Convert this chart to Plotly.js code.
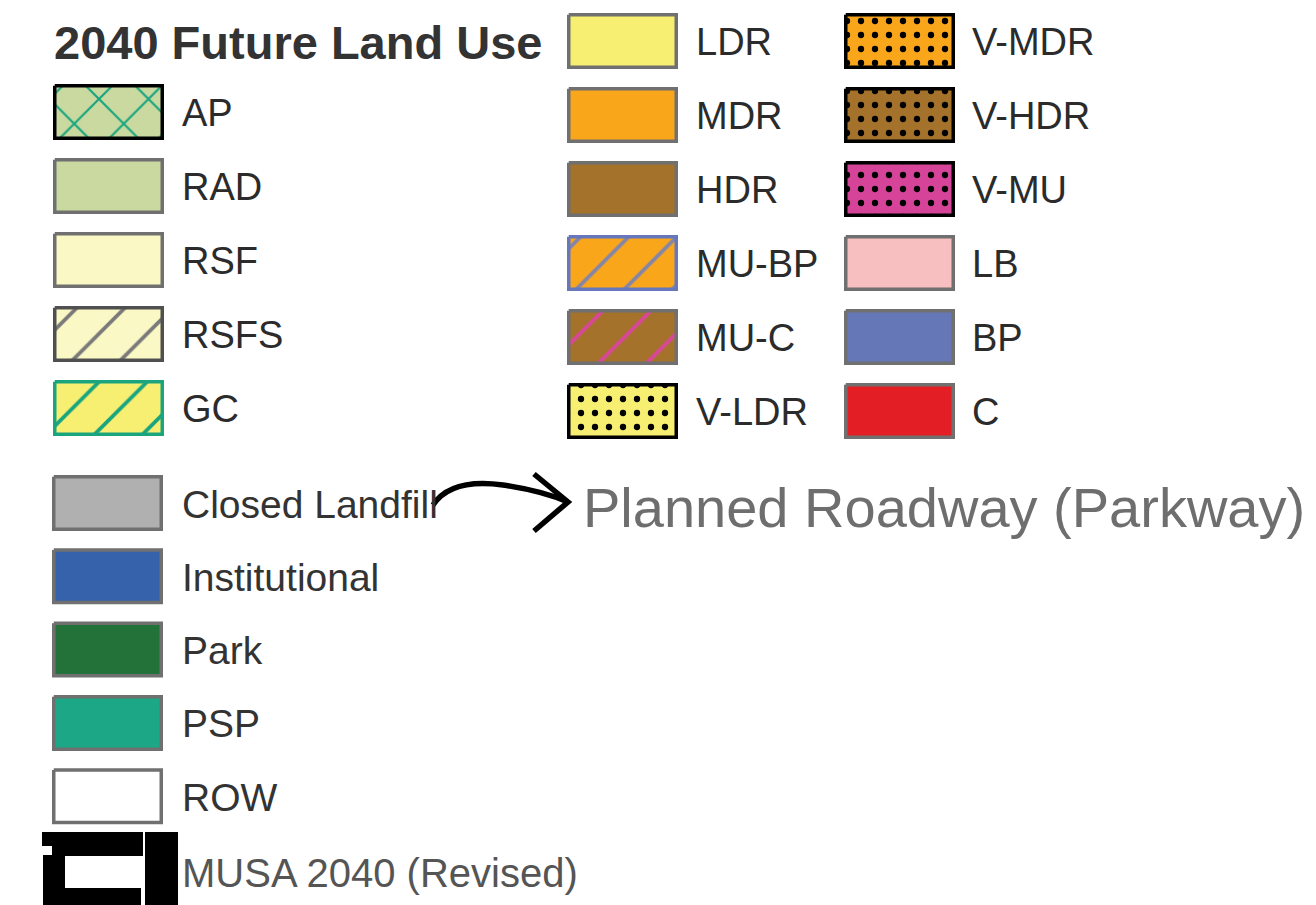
<!DOCTYPE html>
<html><head><meta charset="utf-8">
<script src="https://cdn.plot.ly/plotly-3.0.1.min.js"></script>
<style>html,body{margin:0;padding:0;background:#fff;overflow:hidden}#chart{width:1316px;height:905px}</style>
</head><body><div id="chart"></div>
<script>
// ---------- legend content ----------
const titleText = '2040 Future Land Use';

const leftLabels = ['AP', 'RAD', 'RSF', 'RSFS', 'GC'];
const leftFills = ['#c9d99f', '#c9d99f', '#faf8c4', '#faf8c4', '#f7ef72'];
const leftBorders = ['#000000', '#707070', '#707070', '#505050', '#1aa57f'];
const leftPatterns = ['x', '', '', '/', '/'];
const leftPatternColors = ['#1aa57f', '', '', '#7a7a7a', '#1aa57f'];

const midLabels = ['LDR', 'MDR', 'HDR', 'MU-BP', 'MU-C', 'V-LDR'];
const midFills = ['#f7ef72', '#f9a61b', '#a5722b', '#f9a61b', '#a5722b', '#f7ef72'];
const midBorders = ['#707070', '#707070', '#707070', '#6677bb', '#707070', '#000000'];
const midPatterns = ['', '', '', '/', '/', '.'];
const midPatternColors = ['', '', '', '#8585a8', '#d9479a', '#000000'];

const rightLabels = ['V-MDR', 'V-HDR', 'V-MU', 'LB', 'BP', 'C'];
const rightFills = ['#f9a61b', '#a5722b', '#d6449a', '#f7bfbf', '#6677b8', '#e31e25'];
const rightBorders = ['#000000', '#000000', '#000000', '#707070', '#707070', '#707070'];
const rightPatterns = ['.', '.', '.', '', '', ''];
const rightPatternColors = ['#000000', '#000000', '#000000', '', '', ''];

const lowerLabels = ['Closed Landfill', 'Institutional', 'Park', 'PSP', 'ROW'];
const lowerFills = ['#b0b0b0', '#3562ab', '#23723a', '#1ca886', '#ffffff'];
const lowerBorders = ['#707070', '#707070', '#707070', '#707070', '#707070'];
const lowerPatterns = ['', '', '', '', ''];
const lowerPatternColors = ['', '', '', '', ''];

const musaLabel = 'MUSA 2040 (Revised)';
const roadwayLabel = 'Planned Roadway (Parkway)';

// ---------- layout / styling ----------
const W = 1316, H = 905;
const FONT = 'Arial, "Liberation Sans", Helvetica, sans-serif';
const BOX_W = 111, BOX_H = 56, BORDER = 3.5;
const patternStyle = {
  'x': {size: 35, solidity: 0.12},
  '/': {size: 34, solidity: 0.11},
  '.': {size: 14, solidity: 0.16}
};
const groups = [
  {labels: leftLabels, fills: leftFills, borders: leftBorders, patterns: leftPatterns, pcolors: leftPatternColors,
   boxX: 53, labelX: 180, y0: 112, step: 74, fontSize: 38, color: '#2b2b2b'},
  {labels: midLabels, fills: midFills, borders: midBorders, patterns: midPatterns, pcolors: midPatternColors,
   boxX: 567, labelX: 694, y0: 41, step: 74, fontSize: 38, color: '#2b2b2b'},
  {labels: rightLabels, fills: rightFills, borders: rightBorders, patterns: rightPatterns, pcolors: rightPatternColors,
   boxX: 844, labelX: 970, y0: 41, step: 74, fontSize: 38, color: '#2b2b2b'},
  {labels: lowerLabels, fills: lowerFills, borders: lowerBorders, patterns: lowerPatterns, pcolors: lowerPatternColors,
   boxX: 52, labelX: 180, y0: 503, step: 73.3, fontSize: 39, color: '#333333'}
];

const traces = [];
const annotations = [];
groups.forEach(g => {
  g.labels.forEach((lab, i) => {
    const cy = g.y0 + g.step * i;
    const h = BORDER / 2;
    const x0 = g.boxX + h, x1 = g.boxX + BOX_W - h;
    const y0 = cy - BOX_H / 2 + h, y1 = cy + BOX_H / 2 - h;
    const t = {
      type: 'scatter', mode: 'lines',
      x: [x0, x1, x1, x0, x0], y: [y0, y0, y1, y1, y0],
      fill: 'toself', fillcolor: g.fills[i],
      line: {color: g.borders[i], width: BORDER},
      hoverinfo: 'skip', showlegend: false
    };
    const p = g.patterns[i];
    if (p) {
      t.fillpattern = {shape: p, fgcolor: g.pcolors[i], bgcolor: g.fills[i],
        size: patternStyle[p].size, solidity: patternStyle[p].solidity, fillmode: 'replace'};
    }
    traces.push(t);
    annotations.push({x: g.labelX, y: cy + 1, xref: 'x', yref: 'y', text: lab, showarrow: false,
      xanchor: 'left', yanchor: 'middle', font: {family: FONT, size: g.fontSize, color: g.color}});
  });
});

// title
annotations.push({x: 52, y: 42, xref: 'x', yref: 'y', text: '<b>' + titleText + '</b>', showarrow: false,
  xanchor: 'left', yanchor: 'middle', font: {family: FONT, size: 47, color: '#333333'}});
// MUSA label
annotations.push({x: 180, y: 873, xref: 'x', yref: 'y', text: musaLabel, showarrow: false,
  xanchor: 'left', yanchor: 'middle', font: {family: FONT, size: 40, color: '#555555'}});
// Planned roadway label
annotations.push({x: 581, y: 507, xref: 'x', yref: 'y', text: roadwayLabel, showarrow: false,
  xanchor: 'left', yanchor: 'middle', font: {family: FONT, size: 56, color: '#6e6e6e'}});

// decorative shapes: hand-drawn arrow and MUSA boundary symbol
const shapes = [
  {type: 'path', xref: 'x', yref: 'y', path: 'M433,505 C447,484 474,481 503,485 C530,489 552,495 568,502',
   line: {color: '#000', width: 5.5}},
  {type: 'path', xref: 'x', yref: 'y', path: 'M534,474 L568,502 L534,531',
   line: {color: '#000', width: 5.5}},
  {type: 'rect', xref: 'x', yref: 'y', x0: 42, x1: 143, y0: 832, y1: 846, fillcolor: '#000', line: {width: 0}},
  {type: 'rect', xref: 'x', yref: 'y', x0: 52, x1: 143, y0: 845, y1: 856, fillcolor: '#000', line: {width: 0}},
  {type: 'rect', xref: 'x', yref: 'y', x0: 43, x1: 65, y0: 855, y1: 905, fillcolor: '#000', line: {width: 0}},
  {type: 'rect', xref: 'x', yref: 'y', x0: 64, x1: 141, y0: 888, y1: 905, fillcolor: '#000', line: {width: 0}},
  {type: 'rect', xref: 'x', yref: 'y', x0: 145, x1: 178, y0: 832, y1: 905, fillcolor: '#000', line: {width: 0}}
];

const layout = {
  width: W, height: H,
  margin: {l: 0, r: 0, t: 0, b: 0, pad: 0},
  paper_bgcolor: '#ffffff', plot_bgcolor: '#ffffff',
  xaxis: {range: [0, W], visible: false, fixedrange: true},
  yaxis: {range: [H, 0], visible: false, fixedrange: true},
  showlegend: false,
  annotations: annotations,
  shapes: shapes
};
Plotly.newPlot('chart', traces, layout, {staticPlot: true, displayModeBar: false});
</script>
</body></html>
